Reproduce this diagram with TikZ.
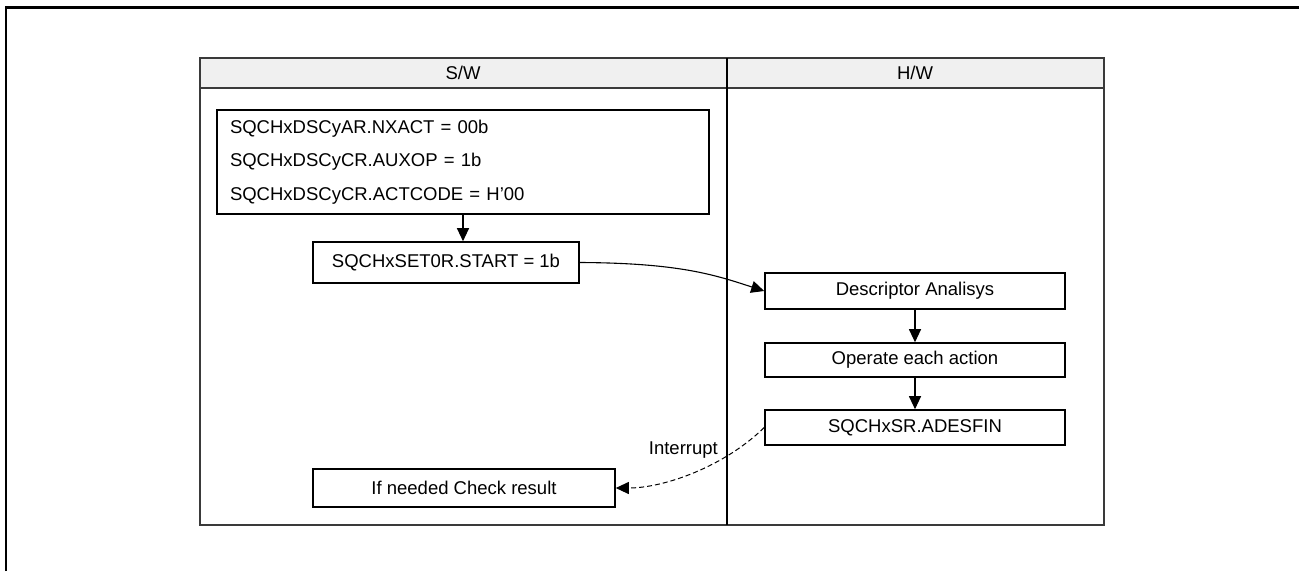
\documentclass[tikz,border=0pt]{standalone}
\usepackage{fontspec}
\setmainfont{Liberation Sans}
\usetikzlibrary{arrows.meta}

\definecolor{lanegray}{HTML}{F0F0F0}
\definecolor{lineedge}{HTML}{3A3A3A}

\tikzset{
  stepbox/.style={draw, line width=1.6pt, minimum width=#1, inner sep=0pt},
  lanehead/.style={inner sep=0pt},
  flow/.style={line width=1.1pt, -{Triangle[length=13pt,width=12pt]}},
}

\begin{document}
\begin{tikzpicture}[x=1pt, y=-1pt, font=\fontsize{18.5}{22}\selectfont]
        \useasboundingbox (0,0) rectangle (1299,571);
        \def\sw{463}
        \def\hw{915}

        % outer frame (only left and top edges show)
        \draw[line width=2.2pt] (6,571) -- (6,7.5) -- (1299,7.5);

        % swimlanes
        \fill[lanegray] (200,58) rectangle (1104,88);
        \draw[lineedge, line width=1.4pt] (200,58) rectangle (1104,525);
        \draw[lineedge, line width=1.8pt] (200,88) -- (1104,88);
        \draw[line width=1.4pt] (727,58) -- (727,525);
        \node[lanehead] (swhead) at (\sw,73) {S/W};
        \node[lanehead] (hwhead) at (\hw,73) {H/W};

        % S/W side
        \node[stepbox=492pt, minimum height=104pt, align=left, text width=466pt,
              font=\fontsize{18.5}{33.5}\selectfont] (regs) at (\sw,162)
             {SQCHxDSCyAR.NXACT = 00b\\SQCHxDSCyCR.AUXOP = 1b\\SQCHxDSCyCR.ACTCODE = H’00};
        \node[stepbox=266pt, minimum height=41pt] (start) at (446,262.5) {SQCHxSET0R.START = 1b};
        \node[stepbox=302pt, minimum height=38pt] (check) at (464,488) {If needed Check result};

        % H/W side
        \node[stepbox=300pt, minimum height=36pt] (desc) at (\hw,291) {Descriptor Analisys};
        \node[stepbox=300pt, minimum height=34pt] (oper) at (\hw,360) {Operate each action};
        \node[stepbox=300pt, minimum height=35pt] (fin) at (\hw,427.5) {SQCHxSR.ADESFIN};

        % connectors
        \draw[flow] (regs.south) -- (regs.south |- start.north);
        \draw[flow] (start.east) .. controls (680,263) and (715,275) .. (desc.west);
        \draw[flow] (desc) -- (oper);
        \draw[flow] (oper) -- (fin);
        \draw[flow, dash pattern=on 5pt off 3pt, line width=1pt]
             (fin.west) .. controls (725,466) and (665,488) .. (check.east);
        \node[anchor=east, inner sep=0pt] (intr) at (718,450) {Interrupt};
\end{tikzpicture}
\end{document}
